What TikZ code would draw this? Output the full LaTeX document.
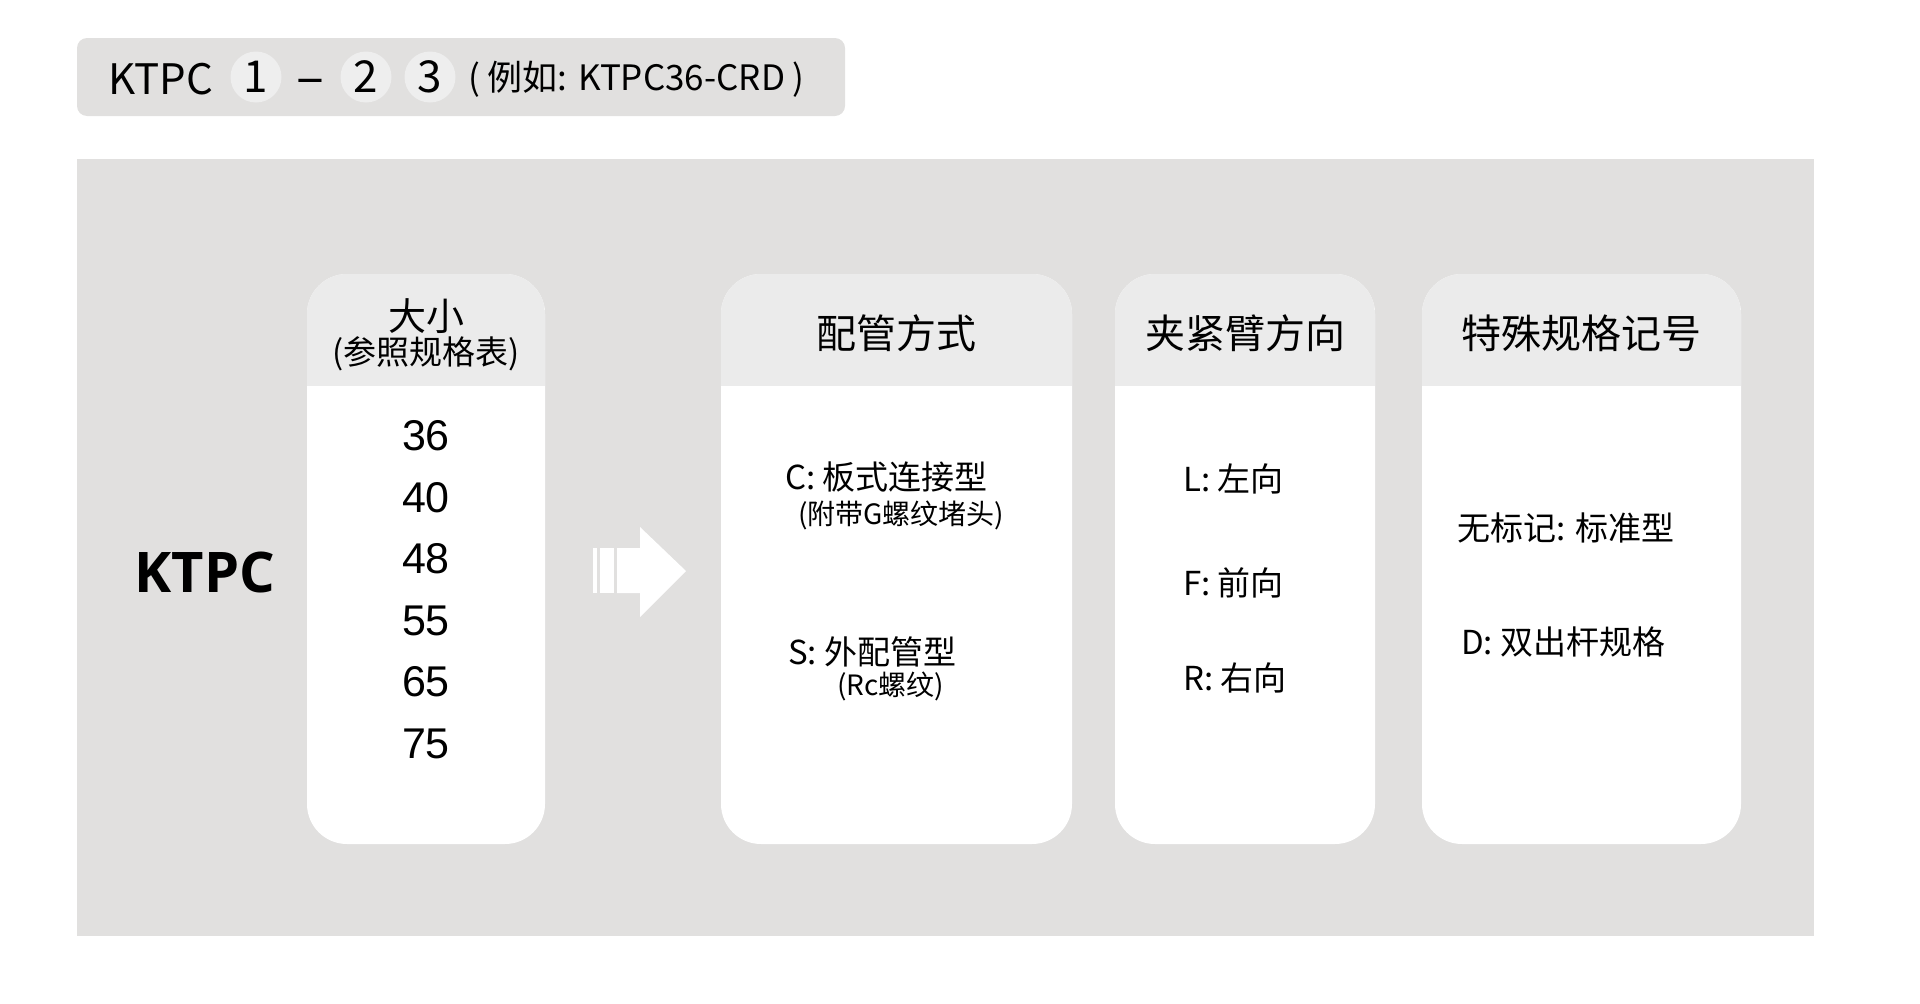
\documentclass[tikz,border=0pt]{standalone}
\usepackage{fontspec}
\setmainfont{Noto Sans CJK SC}
\newfontfamily\numfont{Liberation Sans}
\newfontfamily\brandfont{Open Sans}
\usetikzlibrary{positioning}

\definecolor{panelgray}{HTML}{E1E0DF}
\definecolor{headgray}{HTML}{EBEBEB}
\definecolor{dotgray}{HTML}{EEEEEE}

\begin{document}
\begin{tikzpicture}[x=1pt,y=-1pt,
 col/.style={fill=white,rounded corners=40pt,inner sep=0pt,minimum height=570pt,
   path picture={\fill[headgray,sharp corners] (path picture bounding box.north west)
     rectangle ([yshift=-112pt]path picture bounding box.north east);}},
 head/.style={font=\fontsize{40}{44}\selectfont},
 item/.style={anchor=west,inner sep=0pt,font=\fontsize{33}{36}\selectfont},
 note/.style={anchor=west,inner sep=0pt,font=\fontsize{28}{32}\selectfont},
 num/.style={font=\numfont\fontsize{43}{48}\selectfont},
 dot/.style={circle,fill=dotgray,minimum size=51pt,inner sep=0pt,font=\fontsize{44}{48}\selectfont}]
\useasboundingbox (0,0) rectangle (1920,1004);

% code line
\fill[panelgray,rounded corners=10pt] (77,38) rectangle (845,116);
\node[anchor=west,inner sep=0pt,font=\fontsize{42}{46}\selectfont] (code) at (108,79) {KTPC};
\node[dot] (d1) at (256,77) {1};
\node[anchor=base,inner sep=0pt,font=\fontsize{52}{56}\selectfont] (dash) at (310,95) {–};
\node[dot] (d2) at (366,77) {2};
\node[dot] (d3) at (430,77) {3};
\node[anchor=west,inner sep=0pt,font=\fontsize{35}{38}\selectfont] (eg) at (468,79) {( 例如: KTPC36-CRD )};

% panel
\fill[panelgray] (77,159) rectangle (1814,936);
\node[font=\brandfont\bfseries\fontsize{56}{60}\selectfont] (ktpc) at (205,572) {KTPC};

\node[col,minimum width=238pt] (size) at (426,559) {};
\node[col,minimum width=351pt] (pipe) at (896.5,559) {};
\node[col,minimum width=260pt] (clamp) at (1245,559) {};
\node[col,minimum width=319pt] (spec) at (1581.5,559) {};

\node[font=\fontsize{38}{42}\selectfont] (sizet) at (426,316) {大小};
\node[font=\fontsize{33}{36}\selectfont] (sizen) at (426,354) {(参照规格表)};
\node[head] (pipet) at (896.5,333) {配管方式};
\node[head] (clampt) at (1245,333) {夹紧臂方向};
\node[head] (spect) at (1581.5,333) {特殊规格记号};

\foreach \n [count=\i] in {36,40,48,55,65,75}
  \node[num] (n\n) at (426,{374.5+61.5*\i}) {\n};

% arrow
\fill[white] (617,548) -- (640,548) -- (640,527) -- (686,571) -- (640,617)
  -- (640,593) -- (617,593) -- cycle;
\fill[white] (593,548) rectangle (597,593);
\fill[white] (600,548) rectangle (614,593);

\node[item] (pc) at (785,477) {C: 板式连接型};
\node[note] (pcn) at (798,515) {(附带G螺纹堵头)};
\node[item] (ps) at (788,652) {S: 外配管型};
\node[note] (psn) at (837,686) {(Rc螺纹)};

\foreach \s/\t/\y in {cl/L: 左向/479, cf/F: 前向/583, cr/R: 右向/678}
  \node[item] (\s) at (1183,\y) {\t};

\node[item] (sn) at (1457,528) {无标记: 标准型};
\node[item] (sd) at (1461,642) {D: 双出杆规格};
\end{tikzpicture}
\end{document}
